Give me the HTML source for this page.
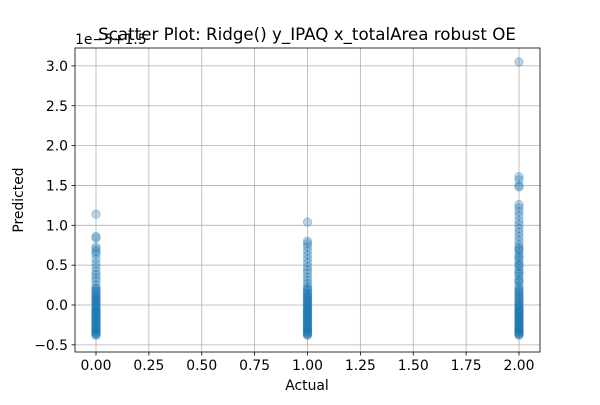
<!DOCTYPE html>
<html><head><meta charset="utf-8"><style>
body{margin:0;background:#fff;}
svg text{font-family:"DejaVu Sans","Liberation Sans",sans-serif;fill:#000;}
</style></head><body>
<svg id="chart" width="600" height="400">
<rect width="600" height="400" fill="#fff"/>
<g id="grid"></g><g id="pts"></g><g id="axes"></g>
<text x="307" y="40" font-size="16.7" text-anchor="middle">Scatter Plot: Ridge() y_IPAQ x_totalArea robust OE</text>
<text x="75" y="44" font-size="13.9">1e−5+1.5</text>
<text x="307" y="390" font-size="13.9" text-anchor="middle">Actual</text>
<text x="23" y="200" font-size="13.9" text-anchor="middle" transform="rotate(-90 23 200)">Predicted</text>
</svg>
<script>
const xTicks=[0,0.25,0.5,0.75,1,1.25,1.5,1.75,2];
const xTickLabels=["0.00","0.25","0.50","0.75","1.00","1.25","1.50","1.75","2.00"];
const yTicks=[-0.5,0,0.5,1,1.5,2,2.5,3];
const yTickLabels=["−0.5","0.0","0.5","1.0","1.5","2.0","2.5","3.0"];
const cat0=[1.14,0.86,0.84,0.73,0.70,0.67,0.64,0.58,0.52,0.47,0.42,0.38,0.34,0.30,0.25,0.21,0.18,0.15,0.12,0.10,0.08,0.06,0.04,0.02,0.0,-0.02,-0.04,-0.06,-0.08,-0.10,-0.12,-0.14,-0.16,-0.18,-0.2,-0.22,-0.24,-0.26,-0.28,-0.30,-0.32,-0.34,-0.36,-0.38,0.1,0.05,0.0,-0.05,-0.1,-0.15,-0.2,-0.25,-0.3,-0.35,-0.37,0.15,0.2,-0.33,-0.29,-0.19,-0.09];
const cat1=[1.04,0.80,0.77,0.73,0.68,0.63,0.58,0.53,0.48,0.44,0.40,0.35,0.31,0.27,0.23,0.20,0.17,0.14,0.12,0.10,0.08,0.06,0.04,0.02,0.0,-0.02,-0.04,-0.06,-0.08,-0.10,-0.12,-0.14,-0.16,-0.18,-0.2,-0.22,-0.24,-0.26,-0.28,-0.30,-0.32,-0.34,-0.36,-0.38,0.1,0.05,0.0,-0.05,-0.1,-0.15,-0.2,-0.25,-0.3,-0.35,-0.37,0.15,0.2,-0.33,-0.29,-0.19,-0.09];
const cat2=[3.05,1.61,1.57,1.50,1.48,1.26,1.22,1.17,1.12,1.06,1.01,0.96,0.91,0.86,0.81,0.76,0.72,0.68,0.64,0.60,0.56,0.52,0.48,0.44,0.40,0.36,0.32,0.28,0.24,0.20,0.17,0.14,0.11,0.08,0.05,0.02,0.0,-0.02,-0.04,-0.06,-0.08,-0.10,-0.12,-0.14,-0.16,-0.18,-0.2,-0.22,-0.24,-0.26,-0.28,-0.30,-0.32,-0.34,-0.36,-0.38,0.7,0.6,0.5,0.4,0.3,0.2,0.1,0.05,0.0,-0.05,-0.1,-0.15,-0.2,-0.25,-0.3,-0.35,-0.37,0.15,-0.33,-0.29,-0.19,-0.09];
const actualCats=[0,1,2];
const series=[cat0,cat1,cat2];
const L=75,R=540,T=48,B=352;
const xS=v=>96+v*211.5;
const yS=v=>305+(0-v)*79.7;
const NS="http://www.w3.org/2000/svg";
function mk(t,a,p){const e=document.createElementNS(NS,t);for(const k in a)e.setAttribute(k,a[k]);p.appendChild(e);return e;}
const grid=document.getElementById('grid'),pts=document.getElementById('pts'),axes=document.getElementById('axes');
xTicks.forEach((v,i)=>{const x=xS(v);
 const g=mk('line',{x1:x,x2:x,y1:T,y2:B,stroke:'#b0b0b0','stroke-width':0.8},grid);
 
 
 mk('line',{x1:x,x2:x,y1:B,y2:B+3.5,stroke:'#000','stroke-width':0.8},axes);
 const t=mk('text',{x:x,y:B+18,'font-size':13.9,'text-anchor':'middle'},axes);t.textContent=xTickLabels[i];
 
 });
yTicks.forEach((v,i)=>{const y=yS(v);
 const g=mk('line',{x1:L,x2:R,y1:y,y2:y,stroke:'#b0b0b0','stroke-width':0.8},grid);
 
 
 mk('line',{x1:L-3.5,x2:L,y1:y,y2:y,stroke:'#000','stroke-width':0.8},axes);
 const t=mk('text',{x:L-7,y:y+5,'font-size':13.9,'text-anchor':'end'},axes);t.textContent=yTickLabels[i];
 
 });
series.forEach((s,k)=>s.forEach(v=>{
 const c=mk('circle',{cx:xS(actualCats[k]),cy:yS(v),r:4.2,fill:'#1f77b4','fill-opacity':0.3,stroke:'#1f77b4','stroke-opacity':0.3,'stroke-width':1},pts);
 
 }));
const fr=mk('rect',{x:L,y:T,width:R-L,height:B-T,fill:'none',stroke:'#000','stroke-width':0.8},axes);


</script>
</body></html>
